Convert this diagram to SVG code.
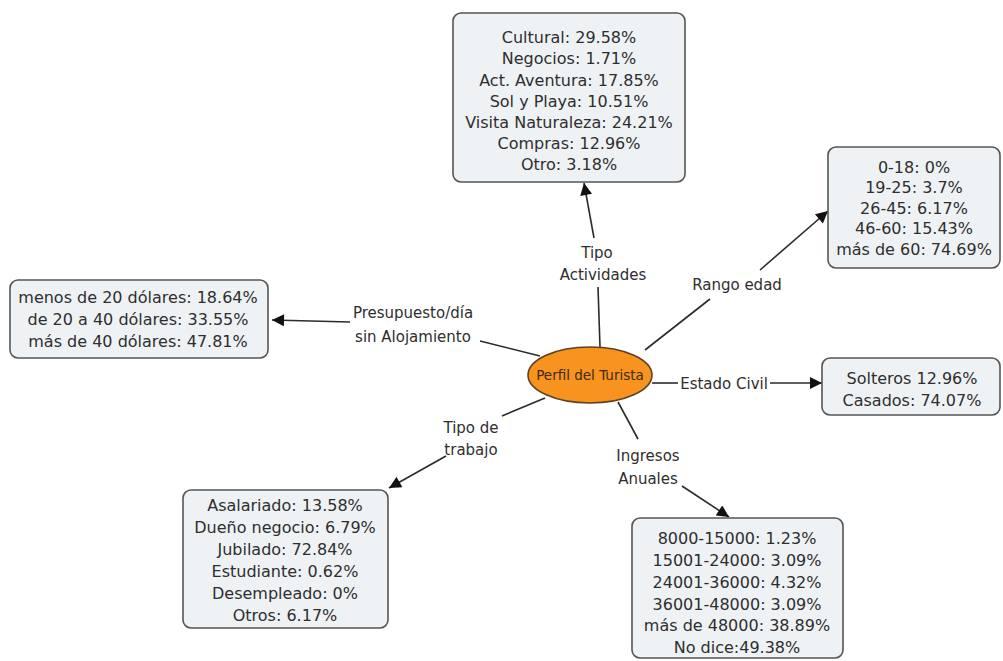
<svg xmlns="http://www.w3.org/2000/svg" width="1003" height="661" viewBox="0 0 1003 661">
<style>
.box{fill:#eef2f5;stroke:#555;stroke-width:1.6}
.t{font-family:"DejaVu Sans",Verdana,sans-serif;font-size:16px;fill:#2e2e2e;text-anchor:middle}
.l{font-family:"DejaVu Sans",Verdana,sans-serif;font-size:15px;fill:#2e2e2e;text-anchor:middle}
.c{stroke:#2b2b2b;stroke-width:1.6;fill:none}
</style>
<defs>
<marker id="ah" viewBox="0 0 10 10" refX="10" refY="5" markerWidth="14" markerHeight="12" markerUnits="userSpaceOnUse" orient="auto"><path d="M0,0 L10,5 L0,10 z" fill="#111"/></marker>
</defs>
<rect width="1003" height="661" fill="#fff"/>
<g id="connectors">
<path class="c" d="M600,347 L598,287"/>
<path class="c" d="M594,238 L584,183" marker-end="url(#ah)"/>
<path class="c" d="M645,350 L710,299"/>
<path class="c" d="M760,270 L828,211" marker-end="url(#ah)"/>
<path class="c" d="M540,356 L480,341"/>
<path class="c" d="M350,322 L272,320" marker-end="url(#ah)"/>
<path class="c" d="M652,383 L678,383"/>
<path class="c" d="M770,383 L822,383" marker-end="url(#ah)"/>
<path class="c" d="M545,398 L502,416"/>
<path class="c" d="M446,456 L389,488" marker-end="url(#ah)"/>
<path class="c" d="M618,402 L638,439"/>
<path class="c" d="M682,486 L729,517" marker-end="url(#ah)"/>
<g class="l">
<text x="597" y="258">Tipo</text>
<text x="603" y="280">Actividades</text>
<text x="737" y="290">Rango edad</text>
<text x="413" y="318">Presupuesto/día</text>
<text x="413" y="342">sin Alojamiento</text>
<text x="724" y="389">Estado Civil</text>
<text x="471" y="433">Tipo de</text>
<text x="471" y="455">trabajo</text>
<text x="648" y="461">Ingresos</text>
<text x="648" y="484">Anuales</text>
</g>
</g>
<g id="actividades">
<rect class="box" x="453" y="13" width="232" height="169" rx="8"/>
<g class="t">
<text x="569" y="43">Cultural: 29.58%</text>
<text x="569" y="64">Negocios: 1.71%</text>
<text x="569" y="86">Act. Aventura: 17.85%</text>
<text x="569" y="107">Sol y Playa: 10.51%</text>
<text x="569" y="128">Visita Naturaleza: 24.21%</text>
<text x="569" y="149">Compras: 12.96%</text>
<text x="569" y="170">Otro: 3.18%</text>
</g>
</g>
<g id="edad">
<rect class="box" x="828" y="147" width="172" height="121" rx="8"/>
<g class="t">
<text x="914" y="173">0-18: 0%</text>
<text x="914" y="193">19-25: 3.7%</text>
<text x="914" y="214">26-45: 6.17%</text>
<text x="914" y="234">46-60: 15.43%</text>
<text x="914" y="255">más de 60: 74.69%</text>
</g>
</g>
<g id="presupuesto">
<rect class="box" x="10" y="280" width="258" height="78" rx="8"/>
<g class="t">
<text x="138" y="303">menos de 20 dólares: 18.64%</text>
<text x="138" y="325">de 20 a 40 dólares: 33.55%</text>
<text x="138" y="347">más de 40 dólares: 47.81%</text>
</g>
</g>
<g id="perfil">
<ellipse cx="590" cy="375" rx="62" ry="28" fill="#f7931e" stroke="#5e4220" stroke-width="1.6"/>
<text x="590" y="380" style="font-family:'DejaVu Sans',Verdana,sans-serif;font-size:13.5px;fill:#3d2a10;text-anchor:middle">Perfil del Turista</text>
</g>
<g id="civil">
<rect class="box" x="822" y="358" width="178" height="57" rx="8"/>
<g class="t">
<text x="912" y="384">Solteros 12.96%</text>
<text x="912" y="406">Casados: 74.07%</text>
</g>
</g>
<g id="trabajo">
<rect class="box" x="183" y="490" width="205" height="138" rx="8"/>
<g class="t">
<text x="285" y="511">Asalariado: 13.58%</text>
<text x="285" y="533">Dueño negocio: 6.79%</text>
<text x="285" y="555">Jubilado: 72.84%</text>
<text x="285" y="577">Estudiante: 0.62%</text>
<text x="285" y="599">Desempleado: 0%</text>
<text x="285" y="621">Otros: 6.17%</text>
</g>
</g>
<g id="ingresos">
<rect class="box" x="632" y="518" width="211" height="140" rx="8"/>
<g class="t">
<text x="737" y="544">8000-15000: 1.23%</text>
<text x="737" y="566">15001-24000: 3.09%</text>
<text x="737" y="588">24001-36000: 4.32%</text>
<text x="737" y="610">36001-48000: 3.09%</text>
<text x="737" y="631">más de 48000: 38.89%</text>
<text x="737" y="653">No dice:49.38%</text>
</g>
</g>
</svg>
